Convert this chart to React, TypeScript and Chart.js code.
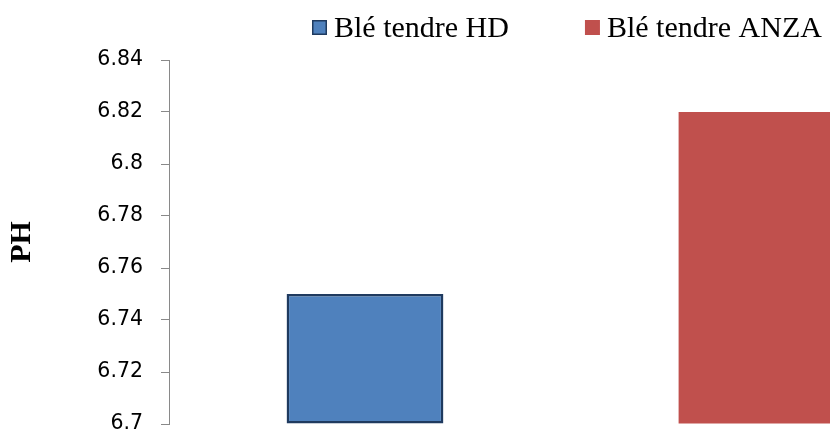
import React, { useEffect, useRef } from 'react';
import { Chart, registerables } from 'chart.js';

Chart.register(...registerables);

// ---- data ----
const categories = ['Blé tendre HD', 'Blé tendre ANZA'];
const phValues = [6.75, 6.82];
const barColors = ['#4F81BD', '#C0504D'];
const barBorderColors = ['#1F3A5F', '#C0504D'];
const barBorderWidths = [2.5, 0];
const yMin = 6.7;
const yMax = 6.84;
const yStep = 0.02;
const yTitle = 'PH';

const legendPlugin = {
  id: 'excelLegend',
  afterDraw(chart: any) {
    const ctx = chart.ctx;
    const ds = chart.data.datasets[0];
    ctx.save();
    ctx.font = '30px "Liberation Serif"';
    ctx.textBaseline = 'alphabetic';
    const box = 15;
    const boxTop = 20;
    const baseline = 37;
    let x = 312;
    (chart.data.labels as string[]).forEach((label, i) => {
      ctx.fillStyle = ds.backgroundColor[i];
      ctx.fillRect(x, boxTop, box, box);
      if (ds.borderWidth[i] > 0) {
        ctx.strokeStyle = ds.borderColor[i];
        ctx.lineWidth = 1.5;
        ctx.strokeRect(x + 0.75, boxTop + 0.75, box - 1.5, box - 1.5);
      }
      x += box + 7;
      ctx.fillStyle = '#000000';
      ctx.fillText(label, x, baseline);
      x += ctx.measureText(label).width + 76;
    });
    ctx.restore();
  },
};

export default function App() {
  const ref = useRef<HTMLCanvasElement | null>(null);

  useEffect(() => {
    if (!ref.current) return;
    const chart = new Chart(ref.current, {
      type: 'bar',
      data: {
        labels: categories,
        datasets: [
          {
            label: 'PH',
            data: phValues,
            base: yMin,
            backgroundColor: barColors,
            borderColor: barBorderColors,
            borderWidth: barBorderWidths,
            borderSkipped: false,
            categoryPercentage: 0.8,
            barPercentage: 0.5,
          },
        ],
      },
      options: {
        animation: false,
        responsive: false,
        maintainAspectRatio: false,
        layout: { padding: { top: 60, right: 7, bottom: 11, left: 0 } },
        plugins: {
          legend: { display: false },
          tooltip: { enabled: false },
        },
        scales: {
          x: { display: false },
          y: {
            min: yMin,
            max: yMax,
            afterFit: (scale: any) => {
              scale.width = 169;
              scale.paddingTop = 0;
              scale.paddingBottom = 0;
            },
            ticks: {
              stepSize: yStep,
              color: '#000000',
              padding: 18,
              font: { family: '"DejaVu Sans"', size: 20.5, lineHeight: 1 },
              callback: (v: any) => String(Number(Number(v).toFixed(2))),
            },
            grid: {
              display: true,
              drawOnChartArea: false,
              drawTicks: true,
              tickLength: 8,
              color: '#898989',
            },
            border: { display: true, color: '#898989', width: 1 },
            title: {
              display: true,
              text: yTitle,
              color: '#000000',
              font: { family: '"Liberation Serif"', size: 30, weight: 'bold' },
              padding: { top: 4, bottom: 0 },
            },
          },
        },
      },
      plugins: [legendPlugin],
    });
    return () => chart.destroy();
  }, []);

  return (
    <div
      style={{
        position: 'absolute',
        left: 0,
        top: 0,
        width: 830,
        height: 435,
        overflow: 'hidden',
        background: '#ffffff',
      }}
    >
      <canvas ref={ref} width={960} height={435} style={{ display: 'block', width: 960, height: 435 }} />
    </div>
  );
}
